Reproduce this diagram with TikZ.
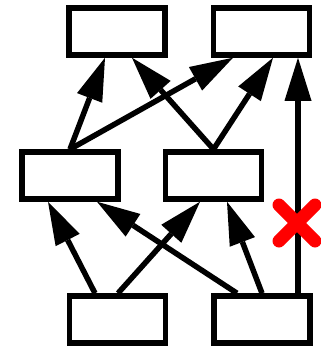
\documentclass[tikz,border=0pt]{standalone}
\usetikzlibrary{arrows.meta}
\begin{document}
\begin{tikzpicture}[x=1pt,y=-1pt,
  box/.style={draw=black,line width=5.5pt,fill=white,minimum width=96pt,minimum height=47pt,inner sep=0pt},
  conn/.style={line width=5.5pt,-{Triangle[length=43pt,width=27pt,line width=0pt]}},
  cross/.style={draw=red,line width=13pt,line cap=round}]
\useasboundingbox (0,0) rectangle (321,348);
\node[box] (tl) at (117,31.5) {};
\node[box] (tr) at (261.5,31.5) {};
\node[box] (ml) at (70,175.5) {};
\node[box] (mr) at (213.5,175.5) {};
\node[box] (bl) at (117.5,319.5) {};
\node[box] (br) at (262,319.5) {};
% middle to top
\draw[conn] (ml.north) -- ([xshift=-12pt]tl.south);
\draw[conn] (ml.north) -- ([xshift=-28.5pt]tr.south);
\draw[conn] (mr.north) -- ([xshift=15pt]tl.south);
\draw[conn] (mr.north) -- ([xshift=11.5pt]tr.south);
% bottom to middle
\draw[conn] ([xshift=-22.5pt]bl.north) -- ([xshift=-22pt]ml.south);
\draw[conn] ([xshift=0.5pt]bl.north) -- ([xshift=-13.5pt]mr.south);
\draw[conn] ([xshift=-25pt]br.north) -- ([xshift=27pt]ml.south);
\draw[conn] (br.north) -- ([xshift=13.5pt]mr.south);
% long vertical
\draw[conn] ([xshift=36pt]br.north) -- ([xshift=36.5pt]tr.south);
% red cross
\coordinate (x) at (297,223);
\draw[cross] ([shift={(-18,-18)}]x) -- ([shift={(18,18)}]x);
\draw[cross] ([shift={(-18,18)}]x) -- ([shift={(18,-18)}]x);
\end{tikzpicture}
\end{document}
